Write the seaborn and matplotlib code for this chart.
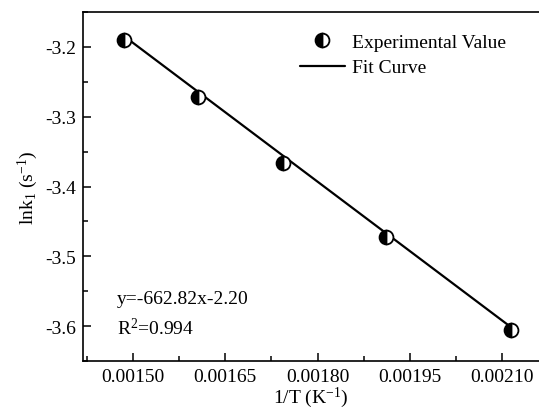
import numpy as np
import pandas as pd
import matplotlib
matplotlib.use("Agg")
import matplotlib.pyplot as plt
from matplotlib.lines import Line2D
from matplotlib.ticker import MultipleLocator, FormatStrFormatter
import seaborn as sns

# Arrhenius data: inverse temperature and ln of rate constant
inv_T = [0.001486, 0.001605, 0.001744, 0.001912, 0.002114]
ln_k1 = [-3.190, -3.272, -3.366, -3.473, -3.605]

# Linear fit reported on the chart
slope = -662.82
intercept = -2.20
r_squared = 0.994

x_ticks = [0.00150, 0.00165, 0.00180, 0.00195, 0.00210]
y_ticks = [-3.6, -3.5, -3.4, -3.3, -3.2]

sns.set_theme(style="ticks")
plt.rcParams["font.family"] = ["Liberation Serif", "DejaVu Serif"]
plt.rcParams["mathtext.fontset"] = "custom"
plt.rcParams["mathtext.rm"] = "Liberation Serif"
plt.rcParams["mathtext.it"] = "Liberation Serif:italic"
plt.rcParams["axes.unicode_minus"] = False
plt.rcParams["text.color"] = "black"
plt.rcParams["axes.labelcolor"] = "black"
plt.rcParams["xtick.color"] = "black"
plt.rcParams["ytick.color"] = "black"

fig = plt.figure(figsize=(5.39, 4.10), dpi=100)
ax = fig.add_axes([83 / 539, 48 / 410, 456 / 539, 349 / 410])

df = pd.DataFrame({"x": inv_T, "y": ln_k1})
fit_x = np.array([inv_T[0], inv_T[-1]])
fit_df = pd.DataFrame({"x": fit_x, "y": slope * fit_x + intercept})

sns.lineplot(data=fit_df, x="x", y="y", ax=ax, color="black", linewidth=1.6)
sns.lineplot(data=df, x="x", y="y", ax=ax, linestyle="", marker="o",
             markersize=10, fillstyle="left", markerfacecolor="black",
             markerfacecoloralt="white", markeredgecolor="black",
             markeredgewidth=1.3)

ax.set_xlim(0.0014187, 0.00216)
ax.set_ylim(-3.65, -3.15)
ax.set_xticks(x_ticks)
ax.set_yticks(y_ticks)
ax.xaxis.set_major_formatter(FormatStrFormatter("%.5f"))
ax.yaxis.set_major_formatter(FormatStrFormatter("%.1f"))
ax.xaxis.set_minor_locator(MultipleLocator(0.000075))
ax.yaxis.set_minor_locator(MultipleLocator(0.05))
ax.tick_params(which="both", direction="in", top=False, right=False,
               width=1.1, labelsize=14, colors="black")
ax.tick_params(which="major", length=6, pad=5)
ax.tick_params(which="minor", length=3.5)
for side in ["left", "bottom", "top"]:
    ax.spines[side].set_visible(True)
    ax.spines[side].set_linewidth(1.2)
    ax.spines[side].set_color("black")
ax.spines["right"].set_visible(False)

ax.set_xlabel(r"1/T (K$^{-1}$)", fontsize=14, labelpad=0)
ax.set_ylabel(r"lnk$_1$ (s$^{-1}$)", fontsize=14, labelpad=4)

ax.text(0.075, 0.178, f"y={slope:.2f}x-{abs(intercept):.2f}",
        transform=ax.transAxes, fontsize=14, va="center", ha="left")
ax.text(0.075, 0.095, f"R$^2$={r_squared:.3f}",
        transform=ax.transAxes, fontsize=14, va="center", ha="left")

handles = [
    Line2D([], [], linestyle="", marker="o", markersize=10, fillstyle="left",
           markerfacecolor="black", markerfacecoloralt="white",
           markeredgecolor="black", markeredgewidth=1.3),
    Line2D([], [], color="black", linewidth=1.6),
]
ax.legend(handles, ["Experimental Value", "Fit Curve"], frameon=False,
          fontsize=14, loc="upper left",
          bbox_to_anchor=(300 / 539, 1 - 34 / 410),
          bbox_transform=fig.transFigure, borderpad=0, borderaxespad=0,
          handlelength=2.3, handletextpad=0.4, labelspacing=0.42)

fig.savefig("out.png", dpi=100)
